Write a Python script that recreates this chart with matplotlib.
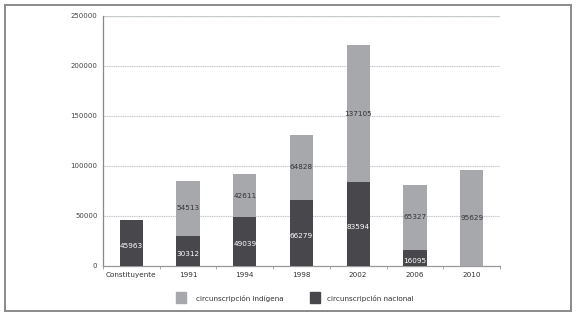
import matplotlib.pyplot as plt
from matplotlib.patches import Rectangle
import numpy as np

categories = ['Constituyente', '1991', '1994', '1998', '2002', '2006', '2010']
nacional = [45963, 30312, 49039, 66279, 83594, 16095, 0]
indigena = [0, 54513, 42611, 64828, 137105, 65327, 95629]

light = '#a7a8ac'
dark = '#48484c'

fig = plt.figure(figsize=(5.76, 3.15), dpi=100)
ax = fig.add_axes([103 / 576, 1 - 266 / 315, 397 / 576, 250 / 315])

x = np.arange(len(categories))
w = 0.41
ax.bar(x, nacional, w, color=dark, zorder=3)
ax.bar(x, indigena, w, bottom=nacional, color=light, zorder=3)

for i in range(len(categories)):
    if nacional[i]:
        ax.text(x[i], nacional[i] / 2 - 3000, str(nacional[i]), ha='center', va='center',
                fontsize=5.2, color='white', zorder=4)
    if indigena[i]:
        ax.text(x[i], nacional[i] + indigena[i] / 2, str(indigena[i]), ha='center', va='center',
                fontsize=5.2, color='#333333', zorder=4)

ax.set_xlim(-0.5, len(categories) - 0.5)
ax.set_ylim(0, 250000)
ax.set_yticks(np.arange(0, 250001, 50000))
ax.set_yticklabels([str(v) for v in range(0, 250001, 50000)], fontsize=5, color='#444444')
ax.set_xticks(x)
ax.set_xticklabels(categories, fontsize=5.2, color='#333333')
ax.tick_params(axis='both', length=0, pad=4)
ax.set_xticks(np.arange(-0.5, len(categories), 1), minor=True)
ax.tick_params(axis='x', which='minor', length=2, color='#999999', direction='out')

ax.yaxis.grid(True, color='#c4c4cc', linestyle=(0, (1, 0.6)), linewidth=0.8, zorder=0)
ax.axhline(250000, color='#cfd8cf', linewidth=1.0, zorder=1)
for s in ['top', 'right']:
    ax.spines[s].set_visible(False)
ax.spines['left'].set_color('#888888')
ax.spines['bottom'].set_color('#999999')
ax.spines['left'].set_linewidth(0.9)
ax.spines['bottom'].set_linewidth(0.9)

# legend
fig.patches.append(Rectangle((176 / 576, 1 - 303 / 315), 10 / 576, 11 / 315,
                             transform=fig.transFigure, color=light))
fig.text(196 / 576, 1 - 298 / 315, 'circunscripción indígena', fontsize=5.2,
         color='#333333', va='center')
fig.patches.append(Rectangle((310 / 576, 1 - 303 / 315), 10 / 576, 11 / 315,
                             transform=fig.transFigure, color=dark))
fig.text(327 / 576, 1 - 298 / 315, 'circunscripción nacional', fontsize=5.2,
         color='#333333', va='center')

# outer frame
fig.patches.append(Rectangle((5 / 576, 1 - 311 / 315), 566 / 576, 306 / 315,
                             transform=fig.transFigure, fill=False,
                             edgecolor='#8a8a8a', linewidth=1.4))

fig.savefig('out.png', dpi=100)
